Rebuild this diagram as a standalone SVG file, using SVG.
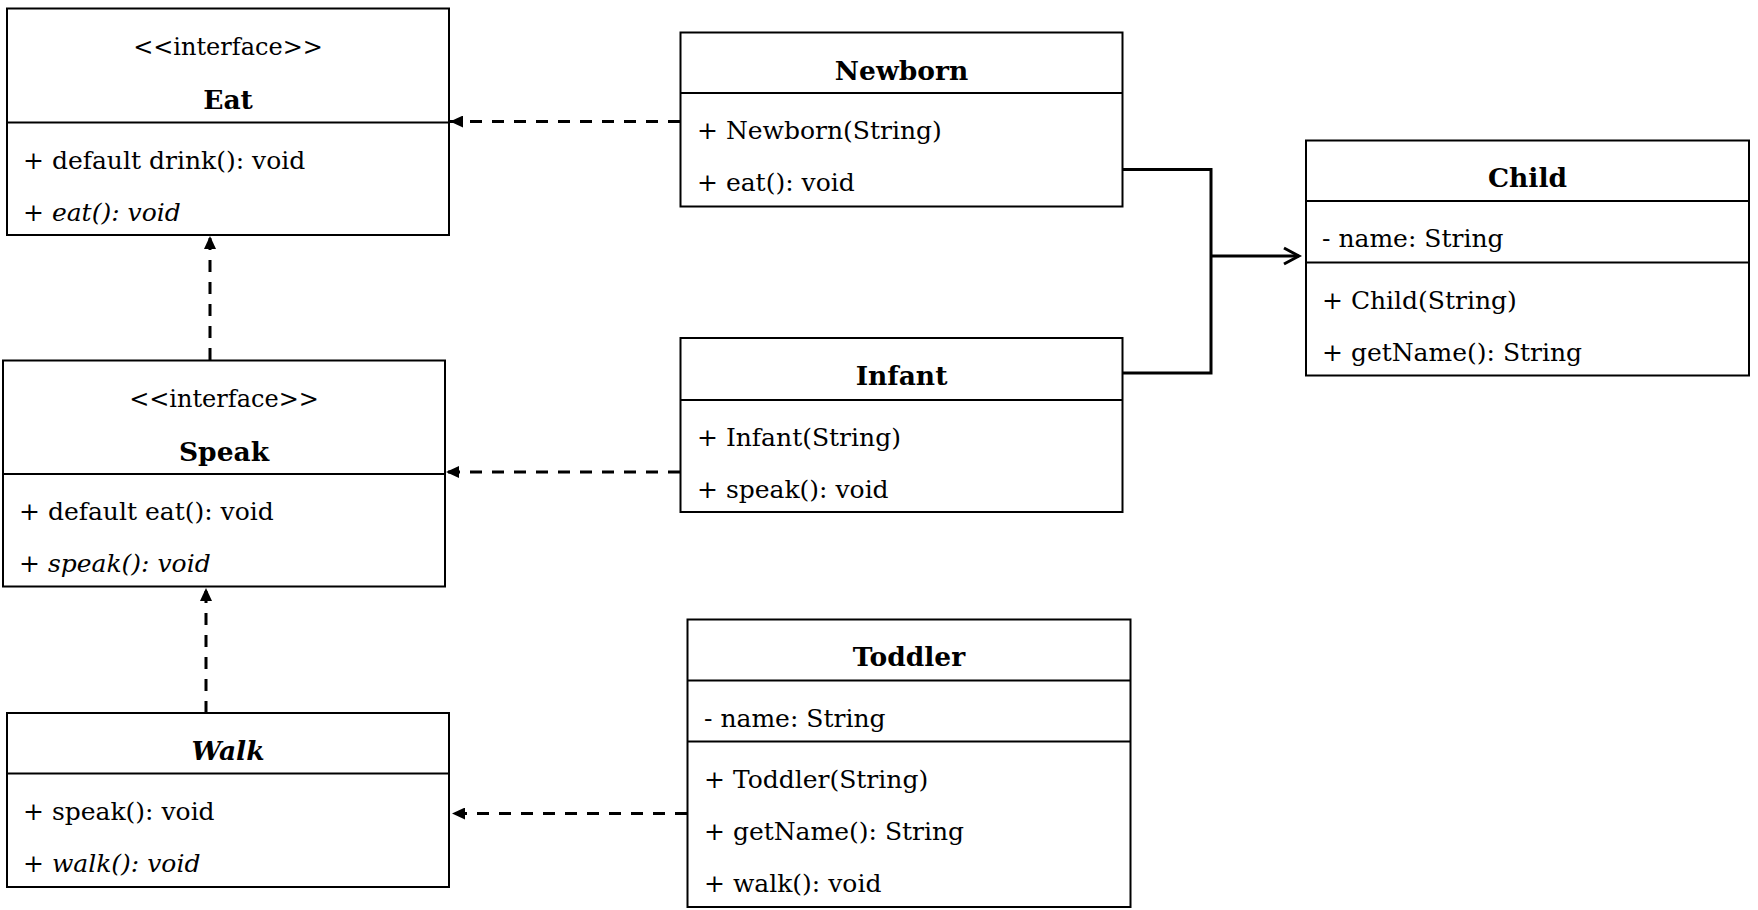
<svg xmlns="http://www.w3.org/2000/svg" width="1758" height="910" viewBox="0 0 1758 910">
<style>
.box{fill:#fff;stroke:#000;stroke-width:2}
.div{stroke:#000;stroke-width:2}
text{font-family:"DejaVu Serif","Liberation Serif",serif;font-size:25px;fill:#000}
.t{font-weight:bold;text-anchor:middle;font-size:26.5px}
.st{text-anchor:middle;font-size:24px}
.i{font-style:italic}
.dash{fill:none;stroke:#000;stroke-width:3;stroke-dasharray:12 10;marker-end:url(#tri)}
.sol{fill:none;stroke:#000;stroke-width:3}
</style>
<defs>
<marker id="tri" markerUnits="userSpaceOnUse" markerWidth="14" markerHeight="12" refX="13" refY="6" orient="auto">
<path d="M0,0 L13,6 L0,12 Z" fill="#000"/>
</marker>
<marker id="open" markerUnits="userSpaceOnUse" markerWidth="20" markerHeight="20" refX="17" refY="10" orient="auto">
<path d="M2,2 L17,10 L2,18" fill="none" stroke="#000" stroke-width="3"/>
</marker>
</defs>
<rect width="1758" height="910" fill="#fff"/>
<g id="connectors">
<path class="dash" d="M680,121.5 L450,121.5"/>
<path class="dash" d="M210,360 L210,236"/>
<path class="dash" d="M680,472 L446,472"/>
<path class="dash" d="M206,713 L206,588"/>
<path class="dash" d="M687,813.5 L452,813.5"/>
<path class="sol" d="M1122,169.5 L1211,169.5 L1211,373 L1122,373"/>
<path class="sol" d="M1211,256 L1299,256" marker-end="url(#open)"/>
</g>
<g id="Eat">
<rect class="box" x="7" y="8.5" width="442" height="226.5"/>
<line class="div" x1="7" y1="122.5" x2="449" y2="122.5"/>
<text class="st" x="228" y="54.5">&lt;&lt;interface&gt;&gt;</text>
<text class="t" x="228" y="108.5">Eat</text>
<text x="23" y="168.5">+ default drink(): void</text>
<text x="23" y="220.5">+ <tspan class="i">eat(): void</tspan></text>
</g>
<g id="Speak">
<rect class="box" x="3" y="360.5" width="442" height="226"/>
<line class="div" x1="3" y1="474" x2="445" y2="474"/>
<text class="st" x="224" y="406.5">&lt;&lt;interface&gt;&gt;</text>
<text class="t" x="224" y="460.5">Speak</text>
<text x="19" y="520">+ default eat(): void</text>
<text x="19" y="572">+ <tspan class="i">speak(): void</tspan></text>
</g>
<g id="Walk">
<rect class="box" x="7" y="713" width="442" height="174"/>
<line class="div" x1="7" y1="773.5" x2="449" y2="773.5"/>
<text class="t i" x="228" y="759.5">Walk</text>
<text x="23" y="819.5">+ speak(): void</text>
<text x="23" y="871.5">+ <tspan class="i">walk(): void</tspan></text>
</g>
<g id="Newborn">
<rect class="box" x="680.5" y="32.5" width="442" height="174"/>
<line class="div" x1="680.5" y1="93" x2="1122.5" y2="93"/>
<text class="t" x="901.5" y="79.5">Newborn</text>
<text x="697" y="139">+ Newborn(String)</text>
<text x="697" y="191">+ eat(): void</text>
</g>
<g id="Infant">
<rect class="box" x="680.5" y="338" width="442" height="174"/>
<line class="div" x1="680.5" y1="400" x2="1122.5" y2="400"/>
<text class="t" x="901.5" y="384.5">Infant</text>
<text x="697" y="446">+ Infant(String)</text>
<text x="697" y="498">+ speak(): void</text>
</g>
<g id="Child">
<rect class="box" x="1306" y="140.5" width="443" height="235"/>
<line class="div" x1="1306" y1="201" x2="1749" y2="201"/>
<line class="div" x1="1306" y1="262.5" x2="1749" y2="262.5"/>
<text class="t" x="1527.5" y="187">Child</text>
<text x="1322" y="247">- name: String</text>
<text x="1322" y="308.5">+ Child(String)</text>
<text x="1322" y="360.5">+ getName(): String</text>
</g>
<g id="Toddler">
<rect class="box" x="687.5" y="619.5" width="443" height="287.5"/>
<line class="div" x1="687.5" y1="680.5" x2="1130.5" y2="680.5"/>
<line class="div" x1="687.5" y1="741.5" x2="1130.5" y2="741.5"/>
<text class="t" x="909" y="666">Toddler</text>
<text x="704" y="726.5">- name: String</text>
<text x="704" y="787.5">+ Toddler(String)</text>
<text x="704" y="839.5">+ getName(): String</text>
<text x="704" y="891.5">+ walk(): void</text>
</g>
</svg>
